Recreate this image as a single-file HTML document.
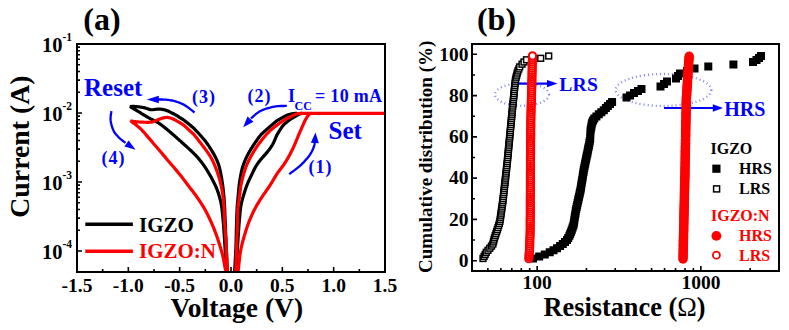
<!DOCTYPE html>
<html><head><meta charset="utf-8"><style>
html,body{margin:0;padding:0;background:#fff;}
body{width:789px;height:330px;overflow:hidden;}
svg{display:block;}
text{font-family:"Liberation Serif",serif;font-weight:bold;}
</style></head><body>
<svg width="789" height="330" viewBox="0 0 789 330">
<rect width="789" height="330" fill="#fff"/>
<path d="M78,251.00h4 M78,230.23h2 M78,218.08h2 M78,209.46h2 M78,202.77h2 M78,197.31h2 M78,192.69h2 M78,188.69h2 M78,185.16h2 M78,182.00h4 M78,161.23h2 M78,149.08h2 M78,140.46h2 M78,133.77h2 M78,128.31h2 M78,123.69h2 M78,119.69h2 M78,116.16h2 M78,113.00h4 M78,92.23h2 M78,80.08h2 M78,71.46h2 M78,64.77h2 M78,59.31h2 M78,54.69h2 M78,50.69h2 M78,47.16h2 M78,44.00h4 M77.00,271v-4 M102.66,271v-2 M128.33,271v-4 M154.00,271v-2 M179.66,271v-4 M205.33,271v-2 M231.00,271v-4 M256.67,271v-2 M282.33,271v-4 M308.00,271v-2 M333.67,271v-4 M359.34,271v-2 M385.00,271v-4" stroke="#000" stroke-width="1.6" fill="none"/>
<clipPath id="ca"><rect x="77" y="44" width="308" height="228"/></clipPath>
<g clip-path="url(#ca)">
<path d="M227.48,273.50 L227.43,272.50 L227.39,271.50 L227.34,270.50 L227.30,269.50 L227.26,268.50 L227.21,267.50 L227.17,266.50 L227.12,265.50 L227.08,264.50 L227.03,263.51 L226.99,262.51 L226.94,261.51 L226.90,260.51 L226.86,259.51 L226.81,258.51 L226.77,257.51 L226.72,256.51 L226.68,255.51 L226.63,254.51 L226.59,253.51 L226.55,252.51 L226.50,251.51 L226.46,250.51 L226.41,249.51 L226.37,248.51 L226.32,247.51 L226.28,246.51 L226.24,245.51 L226.19,244.51 L226.15,243.52 L226.11,242.52 L226.06,241.52 L226.02,240.52 L225.97,239.52 L225.93,238.52 L225.89,237.52 L225.84,236.52 L225.80,235.52 L225.76,234.52 L225.71,233.52 L225.67,232.52 L225.63,231.52 L225.58,230.52 L225.54,229.52 L225.50,228.52 L225.46,227.52 L225.41,226.52 L225.37,225.52 L225.33,224.52 L225.29,223.52 L225.25,222.52 L225.21,221.52 L225.16,220.52 L225.12,219.53 L225.08,218.53 L225.04,217.53 L225.00,216.53 L224.96,215.53 L224.92,214.53 L224.88,213.53 L224.84,212.53 L224.80,211.53 L224.76,210.53 L224.72,209.53 L224.67,208.53 L224.63,207.53 L224.58,206.53 L224.52,205.53 L224.47,204.53 L224.41,203.53 L224.34,202.54 L224.28,201.54 L224.21,200.54 L224.13,199.54 L224.06,198.55 L223.98,197.55 L223.89,196.55 L223.81,195.55 L223.72,194.56 L223.63,193.56 L223.54,192.57 L223.44,191.57 L223.34,190.58 L223.23,189.58 L223.11,188.59 L222.99,187.60 L222.86,186.61 L222.73,185.61 L222.59,184.62 L222.45,183.63 L222.31,182.64 L222.16,181.65 L222.00,180.67 L221.84,179.68 L221.68,178.69 L221.52,177.71 L221.35,176.72 L221.17,175.74 L220.99,174.75 L220.80,173.77 L220.61,172.79 L220.41,171.81 L220.21,170.83 L219.99,169.86 L219.77,168.89 L219.53,167.92 L219.27,166.96 L219.00,166.00 L218.71,165.05 L218.39,164.11 L218.06,163.17 L217.71,162.24 L217.34,161.32 L216.95,160.40 L216.55,159.49 L216.13,158.58 L215.70,157.68 L215.25,156.79 L214.79,155.91 L214.32,155.03 L213.83,154.15 L213.34,153.29 L212.84,152.42 L212.33,151.56 L211.81,150.71 L211.28,149.86 L210.75,149.02 L210.21,148.17 L209.66,147.33 L209.12,146.50 L208.56,145.66 L208.00,144.84 L207.44,144.01 L206.86,143.20 L206.28,142.39 L205.68,141.59 L205.06,140.80 L204.43,140.03 L203.79,139.26 L203.14,138.50 L202.49,137.74 L201.84,136.98 L201.19,136.22 L200.53,135.46 L199.88,134.71 L199.22,133.96 L198.54,133.22 L197.86,132.49 L197.17,131.76 L196.47,131.05 L195.77,130.33 L195.07,129.62 L194.37,128.91 L193.66,128.21 L192.94,127.51 L192.20,126.84 L191.45,126.18 L190.69,125.53 L189.92,124.90 L189.14,124.27 L188.36,123.64 L187.58,123.01 L186.80,122.39 L186.02,121.76 L185.23,121.15 L184.44,120.54 L183.64,119.94 L182.82,119.37 L181.98,118.82 L181.14,118.29 L180.28,117.77 L179.42,117.26 L178.56,116.75 L177.70,116.24 L176.84,115.73 L175.98,115.22 L175.11,114.72 L174.24,114.23 L173.37,113.74 L172.49,113.27 L171.61,112.80 L170.72,112.34 L169.83,111.89 L168.92,111.46 L168.01,111.07 L167.08,110.71 L166.14,110.38 L165.19,110.08 L164.23,109.81 L163.27,109.56 L162.29,109.37 L161.31,109.23 L160.33,109.13 L159.33,109.09 L158.34,109.09 L157.35,109.13 L156.36,109.22 L155.37,109.35 L154.40,109.51 L153.43,109.66 L152.46,109.75 L151.50,109.74 L150.55,109.63 L149.60,109.41 L148.66,109.13 L147.72,108.81 L146.77,108.49 L145.82,108.19 L144.87,107.92 L143.90,107.68 L142.92,107.49 L141.94,107.32 L140.95,107.17 L139.96,107.02 L138.97,106.89 L137.98,106.76 L136.99,106.64 L135.99,106.55 L135.00,106.50 L134.00,106.47 L133.00,106.46 L132.00,106.47 L131.00,106.48 L130.00,106.50 L130.86,107.02 L131.71,107.54 L132.57,108.06 L133.42,108.58 L134.28,109.10 L135.13,109.62 L135.99,110.14 L136.85,110.66 L137.70,111.18 L138.56,111.70 L139.41,112.22 L140.27,112.74 L141.13,113.26 L141.98,113.78 L142.84,114.29 L143.70,114.81 L144.55,115.33 L145.41,115.85 L146.27,116.36 L147.13,116.88 L147.99,117.38 L148.86,117.88 L149.74,118.36 L150.62,118.83 L151.51,119.28 L152.41,119.73 L153.30,120.18 L154.20,120.62 L155.10,121.07 L155.99,121.52 L156.87,121.99 L157.74,122.48 L158.59,123.00 L159.43,123.55 L160.24,124.12 L161.05,124.72 L161.85,125.32 L162.65,125.92 L163.44,126.53 L164.23,127.15 L165.01,127.77 L165.79,128.40 L166.56,129.04 L167.33,129.68 L168.09,130.33 L168.86,130.97 L169.62,131.62 L170.38,132.27 L171.15,132.92 L171.91,133.57 L172.67,134.22 L173.43,134.88 L174.18,135.53 L174.93,136.19 L175.68,136.86 L176.43,137.52 L177.18,138.19 L177.93,138.85 L178.68,139.52 L179.42,140.19 L180.17,140.85 L180.92,141.52 L181.66,142.19 L182.41,142.86 L183.15,143.53 L183.90,144.20 L184.64,144.87 L185.39,145.54 L186.13,146.21 L186.87,146.88 L187.61,147.56 L188.35,148.23 L189.08,148.91 L189.82,149.59 L190.55,150.28 L191.27,150.97 L192.00,151.66 L192.71,152.36 L193.43,153.06 L194.13,153.77 L194.83,154.48 L195.53,155.20 L196.21,155.93 L196.89,156.66 L197.56,157.40 L198.22,158.15 L198.87,158.91 L199.52,159.68 L200.15,160.45 L200.78,161.23 L201.39,162.01 L202.00,162.81 L202.60,163.61 L203.19,164.41 L203.77,165.23 L204.33,166.05 L204.89,166.88 L205.44,167.72 L205.98,168.56 L206.51,169.40 L207.04,170.26 L207.56,171.11 L208.08,171.97 L208.59,172.82 L209.10,173.69 L209.60,174.55 L210.10,175.42 L210.59,176.29 L211.08,177.16 L211.56,178.04 L212.04,178.92 L212.51,179.81 L212.97,180.69 L213.43,181.58 L213.88,182.48 L214.32,183.37 L214.76,184.27 L215.19,185.17 L215.61,186.08 L216.02,186.99 L216.41,187.90 L216.79,188.83 L217.16,189.75 L217.51,190.69 L217.84,191.63 L218.16,192.57 L218.47,193.52 L218.77,194.48 L219.06,195.43 L219.34,196.39 L219.61,197.35 L219.88,198.32 L220.14,199.28 L220.38,200.25 L220.62,201.22 L220.84,202.19 L221.05,203.17 L221.24,204.15 L221.41,205.13 L221.57,206.12 L221.72,207.10 L221.85,208.09 L221.98,209.08 L222.09,210.08 L222.20,211.07 L222.31,212.07 L222.41,213.06 L222.51,214.06 L222.61,215.05 L222.71,216.05 L222.81,217.05 L222.90,218.04 L223.00,219.04 L223.09,220.04 L223.18,221.04 L223.27,222.03 L223.36,223.03 L223.44,224.03 L223.52,225.03 L223.60,226.02 L223.67,227.02 L223.75,228.02 L223.82,229.02 L223.89,230.02 L223.95,231.02 L224.02,232.02 L224.09,233.02 L224.15,234.02 L224.22,235.01 L224.28,236.01 L224.35,237.01 L224.41,238.01 L224.48,239.01 L224.54,240.01 L224.61,241.01 L224.67,242.01 L224.74,243.01 L224.80,244.01 L224.86,245.01 L224.92,246.01 L224.98,247.01 L225.04,248.01 L225.10,249.01 L225.16,250.01 L225.22,251.00 L225.28,252.00 L225.33,253.00 L225.39,254.00 L225.44,255.00 L225.50,256.00 L225.56,257.00 L225.61,258.00 L225.67,259.00 L225.72,260.00 L225.78,261.00 L225.83,262.00 L225.89,263.00 L225.94,264.00 L226.00,265.00 L226.06,266.00 L226.11,267.00 L226.17,268.00 L226.22,269.00 L226.28,270.00 L226.33,271.00 L226.39,272.00 L226.44,273.00 L226.50,274.00" stroke="#000" stroke-width="3.2" fill="none" stroke-linejoin="miter" stroke-miterlimit="3"/>
<path d="M234.50,274.00 L234.56,273.00 L234.61,272.00 L234.67,271.00 L234.72,270.01 L234.78,269.01 L234.83,268.01 L234.89,267.01 L234.94,266.01 L235.00,265.01 L235.05,264.01 L235.11,263.02 L235.17,262.02 L235.22,261.02 L235.28,260.02 L235.33,259.02 L235.39,258.02 L235.44,257.03 L235.50,256.03 L235.55,255.03 L235.61,254.03 L235.66,253.03 L235.71,252.03 L235.76,251.03 L235.81,250.03 L235.86,249.04 L235.90,248.04 L235.94,247.04 L235.98,246.04 L236.01,245.04 L236.04,244.04 L236.07,243.04 L236.10,242.04 L236.12,241.04 L236.15,240.04 L236.17,239.04 L236.19,238.04 L236.22,237.04 L236.24,236.04 L236.26,235.04 L236.28,234.04 L236.30,233.04 L236.33,232.04 L236.35,231.04 L236.37,230.04 L236.39,229.04 L236.42,228.04 L236.44,227.04 L236.47,226.04 L236.49,225.04 L236.52,224.04 L236.55,223.05 L236.58,222.05 L236.61,221.05 L236.64,220.05 L236.68,219.05 L236.71,218.05 L236.74,217.05 L236.78,216.05 L236.81,215.05 L236.85,214.05 L236.88,213.05 L236.92,212.05 L236.96,211.05 L237.01,210.05 L237.05,209.06 L237.11,208.06 L237.17,207.06 L237.23,206.07 L237.31,205.07 L237.39,204.08 L237.48,203.08 L237.57,202.09 L237.67,201.09 L237.77,200.10 L237.87,199.11 L237.97,198.11 L238.06,197.12 L238.15,196.12 L238.24,195.13 L238.33,194.13 L238.41,193.14 L238.50,192.14 L238.58,191.14 L238.67,190.15 L238.75,189.15 L238.85,188.16 L238.94,187.16 L239.05,186.17 L239.16,185.18 L239.29,184.19 L239.42,183.20 L239.56,182.21 L239.71,181.22 L239.86,180.23 L240.03,179.25 L240.19,178.26 L240.37,177.28 L240.54,176.29 L240.73,175.31 L240.92,174.33 L241.11,173.35 L241.31,172.37 L241.53,171.40 L241.75,170.43 L241.99,169.46 L242.24,168.50 L242.51,167.54 L242.80,166.58 L243.10,165.63 L243.42,164.69 L243.76,163.75 L244.10,162.82 L244.47,161.89 L244.84,160.96 L245.23,160.05 L245.62,159.13 L246.03,158.22 L246.46,157.32 L246.89,156.42 L247.34,155.53 L247.80,154.65 L248.27,153.77 L248.75,152.89 L249.24,152.02 L249.74,151.16 L250.25,150.30 L250.76,149.44 L251.28,148.59 L251.81,147.74 L252.33,146.89 L252.86,146.04 L253.40,145.20 L253.95,144.36 L254.51,143.53 L255.07,142.71 L255.64,141.88 L256.21,141.06 L256.79,140.25 L257.37,139.43 L257.94,138.62 L258.53,137.80 L259.11,137.00 L259.72,136.21 L260.35,135.44 L261.01,134.69 L261.71,133.98 L262.42,133.29 L263.15,132.61 L263.89,131.93 L264.63,131.26 L265.38,130.59 L266.12,129.93 L266.87,129.27 L267.62,128.61 L268.38,127.95 L269.14,127.30 L269.90,126.65 L270.65,126.00 L271.41,125.35 L272.17,124.69 L272.93,124.04 L273.69,123.39 L274.45,122.75 L275.22,122.10 L276.00,121.48 L276.79,120.87 L277.60,120.30 L278.44,119.76 L279.29,119.26 L280.16,118.77 L281.04,118.29 L281.92,117.81 L282.80,117.33 L283.68,116.86 L284.56,116.39 L285.45,115.94 L286.35,115.51 L287.26,115.12 L288.19,114.78 L289.14,114.48 L290.10,114.22 L291.07,114.00 L292.05,113.80 L293.03,113.64 L294.01,113.53 L295.01,113.46 L296.00,113.42 L297.00,113.40" stroke="#000" stroke-width="3.2" fill="none" stroke-linejoin="round" stroke-linecap="butt"/>
<path d="M236.00,274.00 L236.06,273.00 L236.11,272.00 L236.17,271.00 L236.22,270.00 L236.28,269.00 L236.33,268.00 L236.39,267.00 L236.44,266.00 L236.50,265.00 L236.56,264.00 L236.61,263.00 L236.67,262.00 L236.72,261.00 L236.78,259.99 L236.83,258.99 L236.89,257.99 L236.94,256.99 L237.00,255.99 L237.06,254.99 L237.11,253.99 L237.17,252.99 L237.23,251.99 L237.28,250.99 L237.34,249.99 L237.40,248.99 L237.46,247.99 L237.52,246.99 L237.58,245.99 L237.64,244.99 L237.70,243.99 L237.77,242.99 L237.83,241.99 L237.89,240.99 L237.96,239.99 L238.02,238.99 L238.09,237.99 L238.15,236.99 L238.22,235.99 L238.28,234.99 L238.35,233.99 L238.41,232.99 L238.48,231.99 L238.55,230.99 L238.61,229.99 L238.68,228.99 L238.75,228.00 L238.82,227.00 L238.90,226.00 L238.97,225.00 L239.05,224.00 L239.13,223.00 L239.22,222.00 L239.30,221.00 L239.39,220.01 L239.48,219.01 L239.57,218.01 L239.66,217.01 L239.75,216.02 L239.85,215.02 L239.94,214.02 L240.04,213.02 L240.14,212.03 L240.24,211.03 L240.35,210.04 L240.46,209.04 L240.59,208.05 L240.72,207.06 L240.87,206.08 L241.04,205.09 L241.22,204.11 L241.42,203.14 L241.64,202.17 L241.88,201.20 L242.13,200.23 L242.39,199.27 L242.66,198.31 L242.95,197.35 L243.23,196.39 L243.52,195.43 L243.82,194.47 L244.11,193.52 L244.41,192.56 L244.72,191.61 L245.02,190.65 L245.33,189.70 L245.64,188.75 L245.97,187.80 L246.30,186.86 L246.64,185.92 L247.00,184.99 L247.36,184.06 L247.75,183.14 L248.14,182.22 L248.54,181.30 L248.96,180.40 L249.38,179.49 L249.81,178.58 L250.24,177.68 L250.68,176.78 L251.11,175.88 L251.55,174.98 L251.98,174.07 L252.41,173.17 L252.84,172.27 L253.27,171.37 L253.71,170.47 L254.15,169.58 L254.60,168.69 L255.07,167.81 L255.55,166.94 L256.04,166.08 L256.56,165.24 L257.09,164.40 L257.65,163.57 L258.22,162.76 L258.81,161.96 L259.42,161.16 L260.04,160.38 L260.67,159.61 L261.31,158.85 L261.97,158.10 L262.63,157.35 L263.30,156.60 L263.97,155.86 L264.63,155.12 L265.30,154.37 L265.96,153.62 L266.61,152.86 L267.25,152.10 L267.88,151.32 L268.50,150.54 L269.11,149.75 L269.70,148.94 L270.27,148.13 L270.83,147.31 L271.38,146.48 L271.91,145.64 L272.42,144.79 L272.91,143.92 L273.36,143.04 L273.79,142.14 L274.20,141.23 L274.60,140.31 L274.98,139.38 L275.37,138.46 L275.76,137.54 L276.17,136.62 L276.59,135.72 L277.04,134.83 L277.52,133.95 L278.03,133.09 L278.55,132.24 L279.08,131.39 L279.62,130.54 L280.15,129.69 L280.69,128.85 L281.23,128.01 L281.79,127.18 L282.38,126.38 L283.01,125.61 L283.68,124.88 L284.39,124.19 L285.12,123.51 L285.87,122.85 L286.63,122.19 L287.39,121.54 L288.16,120.91 L288.95,120.29 L289.75,119.70 L290.58,119.15 L291.43,118.61 L292.28,118.10 L293.15,117.59 L294.01,117.09 L294.88,116.58 L295.74,116.07 L296.60,115.56 L297.46,115.06 L298.33,114.58 L299.21,114.17 L300.12,113.84 L301.05,113.59 L302.00,113.40" stroke="#000" stroke-width="3.2" fill="none" stroke-linejoin="round" stroke-linecap="butt"/>
<path d="M227.48,273.50 L227.43,272.50 L227.38,271.50 L227.34,270.50 L227.29,269.50 L227.24,268.50 L227.19,267.50 L227.15,266.50 L227.10,265.51 L227.05,264.51 L227.01,263.51 L226.96,262.51 L226.91,261.51 L226.87,260.51 L226.82,259.51 L226.77,258.51 L226.72,257.51 L226.68,256.51 L226.63,255.51 L226.58,254.51 L226.54,253.51 L226.49,252.51 L226.44,251.51 L226.39,250.51 L226.35,249.52 L226.30,248.52 L226.25,247.52 L226.20,246.52 L226.15,245.52 L226.10,244.52 L226.05,243.52 L226.00,242.52 L225.94,241.52 L225.88,240.52 L225.82,239.52 L225.76,238.53 L225.69,237.53 L225.62,236.53 L225.55,235.53 L225.48,234.53 L225.41,233.54 L225.33,232.54 L225.26,231.54 L225.19,230.54 L225.11,229.55 L225.04,228.55 L224.98,227.55 L224.91,226.55 L224.85,225.55 L224.79,224.55 L224.73,223.56 L224.68,222.56 L224.62,221.56 L224.58,220.56 L224.53,219.56 L224.49,218.56 L224.44,217.56 L224.40,216.56 L224.36,215.56 L224.32,214.56 L224.28,213.56 L224.24,212.56 L224.20,211.56 L224.16,210.56 L224.11,209.56 L224.06,208.56 L224.01,207.57 L223.95,206.57 L223.88,205.57 L223.81,204.57 L223.73,203.58 L223.65,202.58 L223.55,201.59 L223.45,200.59 L223.35,199.60 L223.23,198.60 L223.12,197.61 L223.00,196.62 L222.87,195.63 L222.74,194.63 L222.60,193.64 L222.46,192.66 L222.31,191.67 L222.14,190.68 L221.97,189.70 L221.79,188.72 L221.60,187.74 L221.39,186.76 L221.18,185.78 L220.96,184.81 L220.73,183.84 L220.49,182.86 L220.25,181.90 L220.00,180.93 L219.74,179.96 L219.47,179.00 L219.20,178.04 L218.91,177.08 L218.62,176.13 L218.32,175.17 L218.01,174.22 L217.69,173.27 L217.37,172.33 L217.04,171.38 L216.70,170.44 L216.36,169.50 L216.01,168.57 L215.65,167.63 L215.29,166.70 L214.92,165.78 L214.53,164.85 L214.14,163.94 L213.74,163.02 L213.32,162.12 L212.89,161.22 L212.45,160.32 L212.00,159.43 L211.53,158.56 L211.04,157.69 L210.54,156.82 L210.03,155.97 L209.50,155.13 L208.95,154.29 L208.40,153.46 L207.83,152.64 L207.25,151.83 L206.67,151.02 L206.08,150.21 L205.48,149.41 L204.88,148.61 L204.27,147.81 L203.67,147.02 L203.06,146.22 L202.45,145.43 L201.84,144.64 L201.22,143.85 L200.61,143.06 L200.00,142.27 L199.39,141.47 L198.78,140.68 L198.18,139.88 L197.58,139.08 L196.97,138.29 L196.36,137.49 L195.75,136.70 L195.12,135.93 L194.46,135.18 L193.78,134.46 L193.07,133.76 L192.34,133.07 L191.61,132.39 L190.87,131.72 L190.14,131.04 L189.40,130.36 L188.67,129.67 L187.95,128.99 L187.22,128.30 L186.49,127.61 L185.76,126.93 L185.02,126.26 L184.27,125.60 L183.50,124.98 L182.70,124.39 L181.87,123.84 L181.02,123.33 L180.15,122.83 L179.28,122.35 L178.40,121.86 L177.52,121.38 L176.65,120.90 L175.77,120.43 L174.88,119.95 L174.00,119.49 L173.10,119.05 L172.20,118.63 L171.29,118.25 L170.36,117.94 L169.41,117.70 L168.44,117.55 L167.46,117.47 L166.47,117.45 L165.49,117.50 L164.52,117.63 L163.55,117.83 L162.60,118.09 L161.65,118.38 L160.70,118.71 L159.76,119.05 L158.83,119.40 L157.90,119.76 L156.97,120.14 L156.05,120.53 L155.13,120.92 L154.21,121.29 L153.28,121.62 L152.33,121.89 L151.37,122.09 L150.40,122.20 L149.41,122.26 L148.41,122.29 L147.42,122.29 L146.42,122.29 L145.42,122.27 L144.42,122.25 L143.42,122.21 L142.42,122.17 L141.42,122.12 L140.42,122.06 L139.42,122.01 L138.42,121.95 L137.42,121.88 L136.43,121.79 L135.44,121.68 L134.45,121.55 L133.46,121.41 L132.47,121.24 L131.49,121.07 L130.50,120.90 L131.32,121.48 L132.13,122.05 L132.95,122.63 L133.76,123.22 L134.57,123.80 L135.37,124.40 L136.16,125.02 L136.94,125.64 L137.72,126.27 L138.48,126.91 L139.24,127.56 L139.99,128.22 L140.72,128.90 L141.43,129.61 L142.12,130.33 L142.79,131.07 L143.46,131.81 L144.12,132.56 L144.78,133.32 L145.43,134.07 L146.09,134.82 L146.75,135.58 L147.41,136.33 L148.06,137.09 L148.71,137.85 L149.36,138.61 L150.01,139.37 L150.66,140.13 L151.31,140.89 L151.95,141.65 L152.60,142.42 L153.25,143.18 L153.90,143.94 L154.55,144.70 L155.19,145.46 L155.84,146.23 L156.49,146.99 L157.14,147.75 L157.79,148.51 L158.43,149.27 L159.08,150.04 L159.73,150.80 L160.38,151.56 L161.02,152.32 L161.67,153.09 L162.32,153.85 L162.97,154.61 L163.62,155.37 L164.26,156.13 L164.91,156.90 L165.56,157.66 L166.21,158.42 L166.86,159.18 L167.50,159.94 L168.15,160.71 L168.80,161.47 L169.45,162.23 L170.09,162.99 L170.74,163.76 L171.39,164.52 L172.04,165.28 L172.69,166.04 L173.34,166.80 L173.98,167.56 L174.63,168.33 L175.28,169.09 L175.93,169.85 L176.57,170.61 L177.22,171.38 L177.86,172.14 L178.51,172.91 L179.14,173.68 L179.78,174.45 L180.41,175.23 L181.03,176.01 L181.65,176.79 L182.27,177.58 L182.88,178.37 L183.48,179.17 L184.08,179.97 L184.67,180.77 L185.27,181.57 L185.86,182.38 L186.46,183.18 L187.06,183.98 L187.66,184.78 L188.27,185.58 L188.88,186.37 L189.49,187.16 L190.10,187.95 L190.71,188.74 L191.33,189.53 L191.94,190.32 L192.56,191.11 L193.17,191.90 L193.77,192.69 L194.38,193.49 L194.97,194.29 L195.56,195.10 L196.15,195.91 L196.73,196.72 L197.30,197.54 L197.87,198.36 L198.44,199.19 L199.00,200.01 L199.56,200.84 L200.11,201.67 L200.66,202.51 L201.21,203.35 L201.75,204.19 L202.29,205.03 L202.81,205.88 L203.33,206.73 L203.84,207.59 L204.34,208.46 L204.83,209.33 L205.31,210.20 L205.79,211.08 L206.25,211.96 L206.71,212.85 L207.17,213.74 L207.62,214.63 L208.07,215.53 L208.51,216.42 L208.95,217.32 L209.38,218.22 L209.81,219.13 L210.23,220.03 L210.65,220.94 L211.06,221.85 L211.46,222.77 L211.86,223.68 L212.25,224.60 L212.64,225.52 L213.03,226.45 L213.41,227.37 L213.79,228.30 L214.16,229.22 L214.53,230.15 L214.89,231.08 L215.25,232.02 L215.61,232.95 L215.95,233.89 L216.29,234.83 L216.63,235.77 L216.96,236.72 L217.28,237.66 L217.60,238.61 L217.92,239.56 L218.24,240.51 L218.55,241.46 L218.86,242.41 L219.17,243.36 L219.48,244.31 L219.78,245.26 L220.08,246.22 L220.38,247.17 L220.67,248.13 L220.96,249.09 L221.24,250.04 L221.51,251.01 L221.77,251.97 L222.03,252.93 L222.28,253.90 L222.51,254.87 L222.74,255.85 L222.96,256.82 L223.17,257.80 L223.37,258.78 L223.57,259.76 L223.77,260.74 L223.96,261.72 L224.15,262.70 L224.34,263.68 L224.53,264.66 L224.71,265.65 L224.90,266.63 L225.09,267.61 L225.27,268.60 L225.46,269.58 L225.65,270.56 L225.83,271.54 L226.02,272.53 L226.21,273.51" stroke="#ff0000" stroke-width="3.2" fill="none" stroke-linejoin="miter" stroke-miterlimit="3"/>
<path d="M235.60,274.00 L235.64,273.00 L235.68,272.00 L235.71,271.00 L235.75,270.00 L235.79,269.00 L235.83,268.00 L235.87,267.00 L235.91,266.00 L235.94,265.00 L235.98,264.00 L236.02,263.00 L236.06,262.00 L236.10,261.00 L236.14,260.00 L236.17,259.00 L236.21,258.00 L236.25,257.00 L236.29,256.00 L236.33,255.00 L236.36,254.00 L236.40,253.01 L236.44,252.01 L236.48,251.01 L236.52,250.01 L236.56,249.01 L236.59,248.01 L236.63,247.01 L236.67,246.01 L236.71,245.01 L236.74,244.01 L236.78,243.01 L236.82,242.01 L236.85,241.01 L236.89,240.01 L236.92,239.01 L236.96,238.01 L236.99,237.01 L237.02,236.01 L237.06,235.01 L237.09,234.01 L237.12,233.01 L237.15,232.01 L237.18,231.01 L237.21,230.01 L237.24,229.01 L237.27,228.01 L237.30,227.01 L237.33,226.01 L237.36,225.01 L237.39,224.01 L237.41,223.01 L237.44,222.01 L237.46,221.01 L237.48,220.01 L237.51,219.01 L237.53,218.01 L237.55,217.01 L237.57,216.01 L237.59,215.01 L237.62,214.01 L237.65,213.01 L237.68,212.01 L237.72,211.01 L237.76,210.01 L237.82,209.02 L237.88,208.02 L237.97,207.03 L238.06,206.04 L238.17,205.05 L238.30,204.07 L238.44,203.08 L238.58,202.10 L238.74,201.11 L238.89,200.13 L239.04,199.14 L239.19,198.15 L239.34,197.17 L239.47,196.18 L239.61,195.19 L239.74,194.20 L239.86,193.21 L239.99,192.21 L240.11,191.22 L240.24,190.23 L240.37,189.24 L240.50,188.25 L240.65,187.26 L240.81,186.28 L240.97,185.29 L241.15,184.31 L241.35,183.33 L241.55,182.36 L241.77,181.38 L242.00,180.41 L242.24,179.44 L242.48,178.47 L242.73,177.50 L242.99,176.54 L243.25,175.57 L243.51,174.61 L243.78,173.64 L244.05,172.68 L244.33,171.72 L244.62,170.77 L244.92,169.82 L245.24,168.87 L245.56,167.93 L245.91,167.00 L246.27,166.07 L246.65,165.15 L247.04,164.23 L247.45,163.32 L247.87,162.42 L248.30,161.52 L248.74,160.62 L249.19,159.73 L249.65,158.84 L250.11,157.96 L250.58,157.08 L251.06,156.20 L251.55,155.33 L252.04,154.46 L252.54,153.59 L253.05,152.73 L253.56,151.87 L254.07,151.01 L254.60,150.16 L255.12,149.31 L255.66,148.47 L256.20,147.63 L256.75,146.79 L257.30,145.96 L257.87,145.14 L258.44,144.33 L259.03,143.52 L259.64,142.72 L260.25,141.93 L260.87,141.15 L261.50,140.37 L262.12,139.59 L262.75,138.81 L263.37,138.03 L264.00,137.25 L264.64,136.48 L265.28,135.71 L265.94,134.96 L266.61,134.22 L267.30,133.50 L267.99,132.78 L268.69,132.06 L269.40,131.35 L270.11,130.65 L270.83,129.96 L271.58,129.30 L272.34,128.65 L273.12,128.03 L273.91,127.42 L274.71,126.81 L275.51,126.21 L276.31,125.62 L277.11,125.02 L277.91,124.42 L278.72,123.82 L279.52,123.23 L280.33,122.64 L281.15,122.07 L281.97,121.51 L282.82,120.97 L283.67,120.46 L284.54,119.96 L285.41,119.46 L286.28,118.97 L287.15,118.49 L288.03,118.00 L288.90,117.52 L289.78,117.03 L290.66,116.56 L291.54,116.09 L292.44,115.65 L293.34,115.24 L294.26,114.85 L295.19,114.49 L296.13,114.17 L297.08,113.89 L298.04,113.68 L299.02,113.54 L300.00,113.46 L301.00,113.42 L302.00,113.41 L303.00,113.40 L304.00,113.40 L305.00,113.40 L306.00,113.40 L307.00,113.40 L308.00,113.40 L309.00,113.40 L310.00,113.40 L311.00,113.40 L312.00,113.40" stroke="#ff0000" stroke-width="3.2" fill="none" stroke-linejoin="round" stroke-linecap="butt"/>
<path d="M237.80,274.00 L237.91,273.00 L238.02,272.01 L238.14,271.01 L238.25,270.02 L238.36,269.02 L238.47,268.03 L238.58,267.03 L238.70,266.04 L238.81,265.04 L238.92,264.05 L239.03,263.05 L239.14,262.06 L239.26,261.06 L239.37,260.07 L239.48,259.08 L239.60,258.08 L239.72,257.09 L239.84,256.09 L239.97,255.10 L240.10,254.11 L240.24,253.12 L240.39,252.13 L240.55,251.15 L240.73,250.16 L240.92,249.18 L241.12,248.20 L241.33,247.23 L241.55,246.25 L241.78,245.28 L242.02,244.31 L242.26,243.34 L242.51,242.37 L242.77,241.40 L243.03,240.44 L243.30,239.47 L243.56,238.51 L243.84,237.54 L244.11,236.58 L244.40,235.62 L244.68,234.66 L244.97,233.70 L245.26,232.74 L245.55,231.79 L245.85,230.83 L246.15,229.88 L246.45,228.92 L246.76,227.97 L247.08,227.02 L247.40,226.08 L247.74,225.13 L248.08,224.19 L248.43,223.26 L248.79,222.32 L249.15,221.39 L249.53,220.47 L249.91,219.54 L250.30,218.62 L250.69,217.70 L251.08,216.78 L251.48,215.86 L251.89,214.95 L252.30,214.04 L252.72,213.13 L253.15,212.22 L253.59,211.33 L254.03,210.43 L254.49,209.54 L254.96,208.66 L255.44,207.78 L255.92,206.91 L256.41,206.03 L256.91,205.17 L257.41,204.30 L257.92,203.44 L258.43,202.58 L258.95,201.73 L259.48,200.87 L260.01,200.02 L260.54,199.18 L261.09,198.34 L261.64,197.51 L262.19,196.67 L262.75,195.85 L263.32,195.02 L263.89,194.20 L264.46,193.38 L265.04,192.56 L265.61,191.74 L266.19,190.92 L266.76,190.10 L267.33,189.28 L267.90,188.45 L268.46,187.63 L269.02,186.79 L269.57,185.96 L270.12,185.12 L270.66,184.28 L271.19,183.43 L271.71,182.58 L272.23,181.72 L272.74,180.86 L273.25,180.00 L273.76,179.14 L274.27,178.28 L274.78,177.42 L275.29,176.56 L275.81,175.71 L276.34,174.86 L276.87,174.02 L277.42,173.19 L277.98,172.37 L278.56,171.57 L279.15,170.77 L279.75,169.98 L280.35,169.19 L280.96,168.41 L281.57,167.62 L282.17,166.83 L282.77,166.04 L283.35,165.23 L283.93,164.42 L284.48,163.60 L285.03,162.76 L285.57,161.92 L286.10,161.08 L286.62,160.22 L287.13,159.36 L287.64,158.50 L288.13,157.63 L288.63,156.76 L289.11,155.89 L289.59,155.01 L290.06,154.13 L290.52,153.24 L290.98,152.35 L291.44,151.46 L291.88,150.56 L292.32,149.67 L292.76,148.76 L293.19,147.86 L293.62,146.96 L294.05,146.05 L294.47,145.14 L294.87,144.23 L295.27,143.31 L295.66,142.39 L296.04,141.46 L296.41,140.53 L296.78,139.60 L297.15,138.67 L297.51,137.74 L297.89,136.81 L298.26,135.88 L298.65,134.96 L299.04,134.04 L299.44,133.12 L299.85,132.21 L300.26,131.29 L300.67,130.38 L301.08,129.46 L301.48,128.55 L301.88,127.63 L302.28,126.71 L302.68,125.80 L303.08,124.88 L303.48,123.96 L303.88,123.04 L304.29,122.13 L304.72,121.22 L305.16,120.33 L305.64,119.45 L306.13,118.57 L306.63,117.71 L307.15,116.86 L307.70,116.03 L308.29,115.24 L308.95,114.54 L309.68,113.99 L310.52,113.64 L311.44,113.47 L312.41,113.42 L313.41,113.40 L314.41,113.40 L315.41,113.40 L316.41,113.40 L317.41,113.40 L318.41,113.40 L319.41,113.40 L320.41,113.40 L321.41,113.40 L322.42,113.40 L323.42,113.40 L324.42,113.40 L325.42,113.40 L326.42,113.40 L327.42,113.40 L328.42,113.40 L329.43,113.40 L330.43,113.40 L331.43,113.40 L332.43,113.40 L333.43,113.40 L334.43,113.40 L335.43,113.40 L336.43,113.40 L337.44,113.40 L338.44,113.40 L339.44,113.40 L340.44,113.40 L341.44,113.40 L342.44,113.40 L343.44,113.40 L344.45,113.40 L345.45,113.40 L346.45,113.40 L347.45,113.40 L348.45,113.40 L349.45,113.40 L350.45,113.40 L351.45,113.40 L352.46,113.40 L353.46,113.40 L354.46,113.40 L355.46,113.40 L356.46,113.40 L357.46,113.40 L358.46,113.40 L359.47,113.40 L360.47,113.40 L361.47,113.40 L362.47,113.40 L363.47,113.40 L364.47,113.40 L365.47,113.40 L366.47,113.40 L367.48,113.40 L368.48,113.40 L369.48,113.40 L370.48,113.40 L371.48,113.40 L372.48,113.40 L373.48,113.40 L374.48,113.40 L375.49,113.40 L376.49,113.40 L377.49,113.40 L378.49,113.40 L379.49,113.40 L380.49,113.40 L381.49,113.40 L382.50,113.40 L383.50,113.40 L384.50,113.40 L385.50,113.40" stroke="#ff0000" stroke-width="3.2" fill="none" stroke-linejoin="round" stroke-linecap="butt"/>
</g>
<rect x="77" y="44" width="308" height="228" fill="none" stroke="#000" stroke-width="2"/>
<text x="62.6" y="52.0" font-family="Liberation Serif" font-weight="bold" font-size="20.5" text-anchor="end">10</text>
<text x="72" y="40.7" font-family="Liberation Serif" font-weight="bold" font-size="11.5" text-anchor="end">-1</text>
<text x="62.6" y="121.0" font-family="Liberation Serif" font-weight="bold" font-size="20.5" text-anchor="end">10</text>
<text x="72" y="109.7" font-family="Liberation Serif" font-weight="bold" font-size="11.5" text-anchor="end">-2</text>
<text x="62.6" y="190.0" font-family="Liberation Serif" font-weight="bold" font-size="20.5" text-anchor="end">10</text>
<text x="72" y="178.7" font-family="Liberation Serif" font-weight="bold" font-size="11.5" text-anchor="end">-3</text>
<text x="62.6" y="259.0" font-family="Liberation Serif" font-weight="bold" font-size="20.5" text-anchor="end">10</text>
<text x="72" y="247.7" font-family="Liberation Serif" font-weight="bold" font-size="11.5" text-anchor="end">-4</text>
<text x="77.0" y="292.3" font-family="Liberation Serif" font-weight="bold" font-size="19.5" text-anchor="middle">-1.5</text>
<text x="128.3" y="292.3" font-family="Liberation Serif" font-weight="bold" font-size="19.5" text-anchor="middle">-1.0</text>
<text x="179.7" y="292.3" font-family="Liberation Serif" font-weight="bold" font-size="19.5" text-anchor="middle">-0.5</text>
<text x="231.0" y="292.3" font-family="Liberation Serif" font-weight="bold" font-size="19.5" text-anchor="middle">0.0</text>
<text x="282.3" y="292.3" font-family="Liberation Serif" font-weight="bold" font-size="19.5" text-anchor="middle">0.5</text>
<text x="333.7" y="292.3" font-family="Liberation Serif" font-weight="bold" font-size="19.5" text-anchor="middle">1.0</text>
<text x="385.0" y="292.3" font-family="Liberation Serif" font-weight="bold" font-size="19.5" text-anchor="middle">1.5</text>
<text x="102" y="29.7" font-family="Liberation Serif" font-weight="bold" font-size="32" text-anchor="middle">(a)</text>
<text x="236.8" y="317" font-family="Liberation Serif" font-weight="bold" font-size="27.5" text-anchor="middle">Voltage (V)</text>
<text transform="translate(28.5,146.6) rotate(-90)" x="0" y="0" font-family="Liberation Serif" font-weight="bold" font-size="27.8" text-anchor="middle">Current (A)</text>
<path d="M85.3,224.3H132.9" stroke="#000" stroke-width="3.5"/>
<text x="139" y="232.2" font-family="Liberation Serif" font-weight="bold" font-size="21">IGZO</text>
<path d="M85.3,251.2H132.9" stroke="#ff0000" stroke-width="3.5"/>
<text x="139" y="258.3" font-family="Liberation Serif" font-weight="bold" font-size="21" fill="#ff0000">IGZO:N</text>
<text x="84" y="96" font-family="Liberation Serif" font-weight="bold" font-size="25" fill="#0000ff">Reset</text>
<text x="328.5" y="139.1" font-family="Liberation Serif" font-weight="bold" font-size="25" fill="#0000ff">Set</text>
<text x="320.6" y="172.6" font-family="Liberation Serif" font-weight="bold" font-size="18" letter-spacing="1" fill="#0000ff" text-anchor="middle">(1)</text>
<text x="259.6" y="102" font-family="Liberation Serif" font-weight="bold" font-size="18" letter-spacing="1" fill="#0000ff" text-anchor="middle">(2)</text>
<text x="204" y="102.6" font-family="Liberation Serif" font-weight="bold" font-size="18" letter-spacing="1" fill="#0000ff" text-anchor="middle">(3)</text>
<text x="113.4" y="164.3" font-family="Liberation Serif" font-weight="bold" font-size="18" letter-spacing="1" fill="#0000ff" text-anchor="middle">(4)</text>
<text x="288" y="102" font-family="Liberation Serif" font-weight="bold" font-size="18" fill="#0000ff">I</text>
<text x="294.5" y="109.8" font-family="Liberation Serif" font-weight="bold" font-size="12" fill="#0000ff">CC</text>
<text x="315" y="102" font-family="Liberation Serif" font-weight="bold" font-size="18" letter-spacing="0.3" fill="#0000ff">= 10 mA</text>
<path d="M194.5,112.5 L193.8,112.0 L192.9,111.2 L191.8,110.3 L190.6,109.4 L189.3,108.4 L188.0,107.4 L186.7,106.5 L185.5,105.7 L184.4,105.0 L183.2,104.4 L182.1,103.9 L181.0,103.3 L179.8,102.9 L178.7,102.4 L177.5,102.0 L176.4,101.6 L175.3,101.3 L174.1,101.0 L173.0,100.7 L171.9,100.5 L170.7,100.3 L169.6,100.1 L168.4,99.9 L167.3,99.8 L166.1,99.7 L164.8,99.6 L163.4,99.6 L162.1,99.5 L160.8,99.5 L159.7,99.5 L158.7,99.5 L158.0,99.5" stroke="#0000ff" stroke-width="2.3" fill="none" stroke-linecap="butt"/><path d="M146.8,99.5 L158.8,95.8 L158.8,103.2 Z" fill="#0000ff"/>
<path d="M286.8,105.9 L286.0,105.9 L284.8,105.9 L283.5,106.0 L282.0,106.0 L280.5,106.0 L278.9,106.1 L277.3,106.2 L275.9,106.4 L274.5,106.6 L273.1,106.9 L271.7,107.2 L270.2,107.6 L268.8,107.9 L267.5,108.3 L266.2,108.7 L265.0,109.1 L263.9,109.5 L262.9,109.9 L262.0,110.3 L261.1,110.7 L260.2,111.1 L259.4,111.6 L258.6,112.1 L257.7,112.7 L256.8,113.4 L255.8,114.1 L254.8,115.0 L253.9,115.8 L253.0,116.7 L252.2,117.4 L251.5,118.0 L251.0,118.5" stroke="#0000ff" stroke-width="2.3" fill="none" stroke-linecap="butt"/><path d="M243.2,127.3 L247.5,116.4 L253.5,121.7 Z" fill="#0000ff"/>
<path d="M289.2,174.2 L290.0,173.6 L291.2,172.7 L292.5,171.7 L294.0,170.6 L295.6,169.4 L297.2,168.2 L298.7,167.0 L300.0,165.8 L301.3,164.6 L302.5,163.4 L303.8,162.1 L305.0,160.7 L306.2,159.4 L307.3,158.2 L308.3,156.9 L309.2,155.8 L310.0,154.7 L310.6,153.7 L311.2,152.7 L311.7,151.8 L312.2,150.8 L312.6,150.0 L312.9,149.1 L313.3,148.3 L313.6,147.5 L313.9,146.7 L314.1,145.9 L314.3,145.2 L314.5,144.5 L314.6,143.9 L314.7,143.4 L314.8,143.0" stroke="#0000ff" stroke-width="2.3" fill="none" stroke-linecap="butt"/><path d="M315.5,132.5 L318.8,143.2 L310.8,142.7 Z" fill="#0000ff"/>
<path d="M111.4,111.1 L111.3,111.8 L111.2,112.7 L111.0,113.8 L110.8,115.0 L110.7,116.3 L110.6,117.6 L110.5,118.9 L110.6,120.2 L110.8,121.5 L111.0,122.8 L111.3,124.2 L111.7,125.6 L112.1,127.0 L112.5,128.3 L113.1,129.6 L113.6,130.8 L114.2,131.9 L114.9,133.0 L115.7,134.0 L116.5,134.9 L117.3,135.8 L118.1,136.7 L118.9,137.5 L119.7,138.3 L120.5,139.0 L121.3,139.7 L122.2,140.4 L123.0,141.0 L123.8,141.6 L124.5,142.1 L125.1,142.5 L125.5,142.8" stroke="#0000ff" stroke-width="2.3" fill="none" stroke-linecap="butt"/><path d="M135.6,149.7 L124.4,146.6 L128.6,140.4 Z" fill="#0000ff"/>
<path d="M473,260.68h4 M473,240.05h2 M473,219.41h4 M473,198.77h2 M473,178.14h4 M473,157.50h2 M473,136.86h4 M473,116.23h2 M473,95.59h4 M473,74.95h2 M473,54.32h4 M487.87,270v-2 M500.83,270v-2 M511.79,270v-2 M521.29,270v-2 M529.66,270v-2 M537.15,270v-4 M586.44,270v-2 M615.27,270v-2 M635.73,270v-2 M651.59,270v-2 M664.56,270v-2 M675.52,270v-2 M685.02,270v-2 M693.39,270v-2 M700.88,270v-4 M750.17,270v-2" stroke="#000" stroke-width="1.6" fill="none"/>
<text x="468.6" y="266.9" font-family="Liberation Serif" font-weight="bold" font-size="19.5" text-anchor="end">0</text>
<text x="468.6" y="225.6" font-family="Liberation Serif" font-weight="bold" font-size="19.5" text-anchor="end">20</text>
<text x="468.6" y="184.3" font-family="Liberation Serif" font-weight="bold" font-size="19.5" text-anchor="end">40</text>
<text x="468.6" y="143.1" font-family="Liberation Serif" font-weight="bold" font-size="19.5" text-anchor="end">60</text>
<text x="468.6" y="101.8" font-family="Liberation Serif" font-weight="bold" font-size="19.5" text-anchor="end">80</text>
<text x="468.6" y="60.5" font-family="Liberation Serif" font-weight="bold" font-size="19.5" text-anchor="end">100</text>
<text x="537.2" y="289.2" font-family="Liberation Serif" font-weight="bold" font-size="19.5" text-anchor="middle">100</text>
<text x="700.9" y="289.2" font-family="Liberation Serif" font-weight="bold" font-size="19.5" text-anchor="middle">1000</text>
<text x="496.5" y="29.7" font-family="Liberation Serif" font-weight="bold" font-size="32" text-anchor="middle">(b)</text>
<text x="624.5" y="315.7" font-family="Liberation Serif" font-weight="bold" font-size="26.3" text-anchor="middle">Resistance (<tspan font-weight="normal">Ω</tspan>)</text>
<text transform="translate(432.3,156.8) rotate(-90)" x="0" y="0" font-family="Liberation Serif" font-weight="bold" font-size="19" text-anchor="middle">Cumulative distribution (%)</text>
<ellipse cx="522" cy="94.5" rx="27" ry="11.3" fill="none" stroke="#0000ff" stroke-opacity="0.5" stroke-width="2.3" stroke-dasharray="1 3"/>
<ellipse cx="663.5" cy="90" rx="47.8" ry="16" fill="none" stroke="#0000ff" stroke-opacity="0.5" stroke-width="2.3" stroke-dasharray="1 3"/>
<path d="M512,83.6H548" stroke="#0000ff" stroke-width="2.2"/><path d="M557.5,83.6L547,80L547,87.2Z" fill="#0000ff"/>
<path d="M664,108H714" stroke="#0000ff" stroke-width="2.2"/><path d="M723,108L712.8,104.2L712.8,111.8Z" fill="#0000ff"/>
<path d="M529.0,254.5h8.0v8.0h-8.0ZM535.2,252.4h8.0v8.0h-8.0ZM540.8,250.4h8.0v8.0h-8.0ZM545.7,248.3h8.0v8.0h-8.0ZM549.5,246.3h8.0v8.0h-8.0ZM553.0,244.2h8.0v8.0h-8.0ZM556.1,242.1h8.0v8.0h-8.0ZM558.8,240.1h8.0v8.0h-8.0ZM561.0,238.0h8.0v8.0h-8.0ZM563.0,236.0h8.0v8.0h-8.0ZM564.2,233.9h8.0v8.0h-8.0ZM565.4,231.8h8.0v8.0h-8.0ZM566.2,229.8h8.0v8.0h-8.0ZM567.1,227.7h8.0v8.0h-8.0ZM567.8,225.7h8.0v8.0h-8.0ZM568.6,223.6h8.0v8.0h-8.0ZM569.3,221.5h8.0v8.0h-8.0ZM569.8,219.5h8.0v8.0h-8.0ZM570.1,217.4h8.0v8.0h-8.0ZM570.4,215.4h8.0v8.0h-8.0ZM570.8,213.3h8.0v8.0h-8.0ZM571.1,211.2h8.0v8.0h-8.0ZM571.5,209.2h8.0v8.0h-8.0ZM571.8,207.1h8.0v8.0h-8.0ZM572.2,205.1h8.0v8.0h-8.0ZM572.7,203.0h8.0v8.0h-8.0ZM573.1,200.9h8.0v8.0h-8.0ZM573.6,198.9h8.0v8.0h-8.0ZM574.1,196.8h8.0v8.0h-8.0ZM574.5,194.8h8.0v8.0h-8.0ZM575.0,192.7h8.0v8.0h-8.0ZM575.5,190.6h8.0v8.0h-8.0ZM575.9,188.6h8.0v8.0h-8.0ZM576.4,186.5h8.0v8.0h-8.0ZM576.8,184.5h8.0v8.0h-8.0ZM577.1,182.4h8.0v8.0h-8.0ZM577.4,180.3h8.0v8.0h-8.0ZM577.8,178.3h8.0v8.0h-8.0ZM578.1,176.2h8.0v8.0h-8.0ZM578.5,174.2h8.0v8.0h-8.0ZM578.8,172.1h8.0v8.0h-8.0ZM579.1,170.0h8.0v8.0h-8.0ZM579.5,168.0h8.0v8.0h-8.0ZM579.8,165.9h8.0v8.0h-8.0ZM580.2,163.9h8.0v8.0h-8.0ZM580.7,161.8h8.0v8.0h-8.0ZM581.1,159.7h8.0v8.0h-8.0ZM581.5,157.7h8.0v8.0h-8.0ZM582.0,155.6h8.0v8.0h-8.0ZM582.4,153.6h8.0v8.0h-8.0ZM582.8,151.5h8.0v8.0h-8.0ZM583.3,149.4h8.0v8.0h-8.0ZM583.7,147.4h8.0v8.0h-8.0ZM584.1,145.3h8.0v8.0h-8.0ZM584.5,143.3h8.0v8.0h-8.0ZM585.0,141.2h8.0v8.0h-8.0ZM585.4,139.1h8.0v8.0h-8.0ZM585.8,137.1h8.0v8.0h-8.0ZM586.1,135.0h8.0v8.0h-8.0ZM586.2,133.0h8.0v8.0h-8.0ZM586.3,130.9h8.0v8.0h-8.0ZM586.4,128.8h8.0v8.0h-8.0ZM586.6,126.8h8.0v8.0h-8.0ZM586.9,124.7h8.0v8.0h-8.0ZM587.3,122.7h8.0v8.0h-8.0ZM587.7,120.6h8.0v8.0h-8.0ZM588.2,118.5h8.0v8.0h-8.0ZM589.1,116.5h8.0v8.0h-8.0ZM590.3,114.4h8.0v8.0h-8.0ZM592.4,112.4h8.0v8.0h-8.0ZM594.8,110.3h8.0v8.0h-8.0ZM597.3,108.2h8.0v8.0h-8.0ZM599.8,106.2h8.0v8.0h-8.0ZM601.9,104.1h8.0v8.0h-8.0ZM603.9,102.1h8.0v8.0h-8.0ZM606.0,100.0h8.0v8.0h-8.0ZM608.1,97.9h8.0v8.0h-8.0ZM622.5,93.5h8.0v8.0h-8.0ZM626.0,91.5h8.0v8.0h-8.0ZM630.0,89.0h8.0v8.0h-8.0ZM634.0,87.0h8.0v8.0h-8.0ZM637.5,85.0h8.0v8.0h-8.0ZM656.5,82.5h8.0v8.0h-8.0ZM660.0,80.0h8.0v8.0h-8.0ZM663.0,77.5h8.0v8.0h-8.0ZM672.0,74.5h8.0v8.0h-8.0ZM674.0,72.0h8.0v8.0h-8.0ZM676.0,69.5h8.0v8.0h-8.0ZM683.0,67.0h8.0v8.0h-8.0ZM690.5,64.5h8.0v8.0h-8.0ZM704.3,62.5h8.0v8.0h-8.0ZM729.4,60.5h8.0v8.0h-8.0ZM749.0,58.0h8.0v8.0h-8.0ZM752.5,56.0h8.0v8.0h-8.0ZM755.0,54.0h8.0v8.0h-8.0ZM757.0,52.0h8.0v8.0h-8.0Z" fill="#000"/>
<rect x="480.1" y="255.6" width="5.8" height="5.8" fill="#fff" stroke="#000" stroke-width="1.5"/>
<rect x="481.2" y="253.5" width="5.8" height="5.8" fill="#fff" stroke="#000" stroke-width="1.5"/>
<rect x="482.3" y="251.5" width="5.8" height="5.8" fill="#fff" stroke="#000" stroke-width="1.5"/>
<rect x="483.4" y="249.4" width="5.8" height="5.8" fill="#fff" stroke="#000" stroke-width="1.5"/>
<rect x="485.1" y="247.4" width="5.8" height="5.8" fill="#fff" stroke="#000" stroke-width="1.5"/>
<rect x="486.9" y="245.3" width="5.8" height="5.8" fill="#fff" stroke="#000" stroke-width="1.5"/>
<rect x="488.6" y="243.2" width="5.8" height="5.8" fill="#fff" stroke="#000" stroke-width="1.5"/>
<rect x="489.9" y="241.2" width="5.8" height="5.8" fill="#fff" stroke="#000" stroke-width="1.5"/>
<rect x="490.5" y="239.1" width="5.8" height="5.8" fill="#fff" stroke="#000" stroke-width="1.5"/>
<rect x="491.0" y="237.1" width="5.8" height="5.8" fill="#fff" stroke="#000" stroke-width="1.5"/>
<rect x="491.6" y="235.0" width="5.8" height="5.8" fill="#fff" stroke="#000" stroke-width="1.5"/>
<rect x="492.3" y="232.9" width="5.8" height="5.8" fill="#fff" stroke="#000" stroke-width="1.5"/>
<rect x="493.0" y="230.9" width="5.8" height="5.8" fill="#fff" stroke="#000" stroke-width="1.5"/>
<rect x="493.7" y="228.8" width="5.8" height="5.8" fill="#fff" stroke="#000" stroke-width="1.5"/>
<rect x="494.4" y="226.8" width="5.8" height="5.8" fill="#fff" stroke="#000" stroke-width="1.5"/>
<rect x="495.1" y="224.7" width="5.8" height="5.8" fill="#fff" stroke="#000" stroke-width="1.5"/>
<rect x="495.7" y="222.6" width="5.8" height="5.8" fill="#fff" stroke="#000" stroke-width="1.5"/>
<rect x="496.4" y="220.6" width="5.8" height="5.8" fill="#fff" stroke="#000" stroke-width="1.5"/>
<rect x="497.0" y="218.5" width="5.8" height="5.8" fill="#fff" stroke="#000" stroke-width="1.5"/>
<rect x="497.3" y="216.5" width="5.8" height="5.8" fill="#fff" stroke="#000" stroke-width="1.5"/>
<rect x="497.6" y="214.4" width="5.8" height="5.8" fill="#fff" stroke="#000" stroke-width="1.5"/>
<rect x="497.9" y="212.3" width="5.8" height="5.8" fill="#fff" stroke="#000" stroke-width="1.5"/>
<rect x="498.2" y="210.3" width="5.8" height="5.8" fill="#fff" stroke="#000" stroke-width="1.5"/>
<rect x="498.5" y="208.2" width="5.8" height="5.8" fill="#fff" stroke="#000" stroke-width="1.5"/>
<rect x="498.8" y="206.2" width="5.8" height="5.8" fill="#fff" stroke="#000" stroke-width="1.5"/>
<rect x="499.1" y="204.1" width="5.8" height="5.8" fill="#fff" stroke="#000" stroke-width="1.5"/>
<rect x="499.4" y="202.0" width="5.8" height="5.8" fill="#fff" stroke="#000" stroke-width="1.5"/>
<rect x="499.7" y="200.0" width="5.8" height="5.8" fill="#fff" stroke="#000" stroke-width="1.5"/>
<rect x="500.0" y="197.9" width="5.8" height="5.8" fill="#fff" stroke="#000" stroke-width="1.5"/>
<rect x="500.2" y="195.9" width="5.8" height="5.8" fill="#fff" stroke="#000" stroke-width="1.5"/>
<rect x="500.5" y="193.8" width="5.8" height="5.8" fill="#fff" stroke="#000" stroke-width="1.5"/>
<rect x="500.7" y="191.7" width="5.8" height="5.8" fill="#fff" stroke="#000" stroke-width="1.5"/>
<rect x="500.9" y="189.7" width="5.8" height="5.8" fill="#fff" stroke="#000" stroke-width="1.5"/>
<rect x="501.2" y="187.6" width="5.8" height="5.8" fill="#fff" stroke="#000" stroke-width="1.5"/>
<rect x="501.4" y="185.6" width="5.8" height="5.8" fill="#fff" stroke="#000" stroke-width="1.5"/>
<rect x="501.6" y="183.5" width="5.8" height="5.8" fill="#fff" stroke="#000" stroke-width="1.5"/>
<rect x="501.9" y="181.4" width="5.8" height="5.8" fill="#fff" stroke="#000" stroke-width="1.5"/>
<rect x="502.1" y="179.4" width="5.8" height="5.8" fill="#fff" stroke="#000" stroke-width="1.5"/>
<rect x="502.3" y="177.3" width="5.8" height="5.8" fill="#fff" stroke="#000" stroke-width="1.5"/>
<rect x="502.6" y="175.3" width="5.8" height="5.8" fill="#fff" stroke="#000" stroke-width="1.5"/>
<rect x="502.8" y="173.2" width="5.8" height="5.8" fill="#fff" stroke="#000" stroke-width="1.5"/>
<rect x="503.0" y="171.1" width="5.8" height="5.8" fill="#fff" stroke="#000" stroke-width="1.5"/>
<rect x="503.3" y="169.1" width="5.8" height="5.8" fill="#fff" stroke="#000" stroke-width="1.5"/>
<rect x="503.5" y="167.0" width="5.8" height="5.8" fill="#fff" stroke="#000" stroke-width="1.5"/>
<rect x="503.7" y="165.0" width="5.8" height="5.8" fill="#fff" stroke="#000" stroke-width="1.5"/>
<rect x="503.9" y="162.9" width="5.8" height="5.8" fill="#fff" stroke="#000" stroke-width="1.5"/>
<rect x="504.2" y="160.8" width="5.8" height="5.8" fill="#fff" stroke="#000" stroke-width="1.5"/>
<rect x="504.4" y="158.8" width="5.8" height="5.8" fill="#fff" stroke="#000" stroke-width="1.5"/>
<rect x="504.6" y="156.7" width="5.8" height="5.8" fill="#fff" stroke="#000" stroke-width="1.5"/>
<rect x="504.8" y="154.7" width="5.8" height="5.8" fill="#fff" stroke="#000" stroke-width="1.5"/>
<rect x="505.0" y="152.6" width="5.8" height="5.8" fill="#fff" stroke="#000" stroke-width="1.5"/>
<rect x="505.2" y="150.5" width="5.8" height="5.8" fill="#fff" stroke="#000" stroke-width="1.5"/>
<rect x="505.4" y="148.5" width="5.8" height="5.8" fill="#fff" stroke="#000" stroke-width="1.5"/>
<rect x="505.6" y="146.4" width="5.8" height="5.8" fill="#fff" stroke="#000" stroke-width="1.5"/>
<rect x="505.8" y="144.4" width="5.8" height="5.8" fill="#fff" stroke="#000" stroke-width="1.5"/>
<rect x="506.0" y="142.3" width="5.8" height="5.8" fill="#fff" stroke="#000" stroke-width="1.5"/>
<rect x="506.2" y="140.2" width="5.8" height="5.8" fill="#fff" stroke="#000" stroke-width="1.5"/>
<rect x="506.4" y="138.2" width="5.8" height="5.8" fill="#fff" stroke="#000" stroke-width="1.5"/>
<rect x="506.6" y="136.1" width="5.8" height="5.8" fill="#fff" stroke="#000" stroke-width="1.5"/>
<rect x="506.8" y="134.1" width="5.8" height="5.8" fill="#fff" stroke="#000" stroke-width="1.5"/>
<rect x="507.0" y="132.0" width="5.8" height="5.8" fill="#fff" stroke="#000" stroke-width="1.5"/>
<rect x="507.2" y="129.9" width="5.8" height="5.8" fill="#fff" stroke="#000" stroke-width="1.5"/>
<rect x="507.4" y="127.9" width="5.8" height="5.8" fill="#fff" stroke="#000" stroke-width="1.5"/>
<rect x="507.6" y="125.8" width="5.8" height="5.8" fill="#fff" stroke="#000" stroke-width="1.5"/>
<rect x="507.8" y="123.8" width="5.8" height="5.8" fill="#fff" stroke="#000" stroke-width="1.5"/>
<rect x="508.0" y="121.7" width="5.8" height="5.8" fill="#fff" stroke="#000" stroke-width="1.5"/>
<rect x="508.2" y="119.6" width="5.8" height="5.8" fill="#fff" stroke="#000" stroke-width="1.5"/>
<rect x="508.4" y="117.6" width="5.8" height="5.8" fill="#fff" stroke="#000" stroke-width="1.5"/>
<rect x="508.6" y="115.5" width="5.8" height="5.8" fill="#fff" stroke="#000" stroke-width="1.5"/>
<rect x="508.8" y="113.5" width="5.8" height="5.8" fill="#fff" stroke="#000" stroke-width="1.5"/>
<rect x="509.0" y="111.4" width="5.8" height="5.8" fill="#fff" stroke="#000" stroke-width="1.5"/>
<rect x="509.2" y="109.3" width="5.8" height="5.8" fill="#fff" stroke="#000" stroke-width="1.5"/>
<rect x="509.4" y="107.3" width="5.8" height="5.8" fill="#fff" stroke="#000" stroke-width="1.5"/>
<rect x="509.6" y="105.2" width="5.8" height="5.8" fill="#fff" stroke="#000" stroke-width="1.5"/>
<rect x="509.8" y="103.2" width="5.8" height="5.8" fill="#fff" stroke="#000" stroke-width="1.5"/>
<rect x="510.0" y="101.1" width="5.8" height="5.8" fill="#fff" stroke="#000" stroke-width="1.5"/>
<rect x="510.3" y="99.0" width="5.8" height="5.8" fill="#fff" stroke="#000" stroke-width="1.5"/>
<rect x="510.5" y="97.0" width="5.8" height="5.8" fill="#fff" stroke="#000" stroke-width="1.5"/>
<rect x="510.7" y="94.9" width="5.8" height="5.8" fill="#fff" stroke="#000" stroke-width="1.5"/>
<rect x="510.9" y="92.9" width="5.8" height="5.8" fill="#fff" stroke="#000" stroke-width="1.5"/>
<rect x="511.1" y="90.8" width="5.8" height="5.8" fill="#fff" stroke="#000" stroke-width="1.5"/>
<rect x="511.3" y="88.7" width="5.8" height="5.8" fill="#fff" stroke="#000" stroke-width="1.5"/>
<rect x="511.5" y="86.7" width="5.8" height="5.8" fill="#fff" stroke="#000" stroke-width="1.5"/>
<rect x="511.7" y="84.6" width="5.8" height="5.8" fill="#fff" stroke="#000" stroke-width="1.5"/>
<rect x="511.9" y="82.6" width="5.8" height="5.8" fill="#fff" stroke="#000" stroke-width="1.5"/>
<rect x="512.2" y="80.5" width="5.8" height="5.8" fill="#fff" stroke="#000" stroke-width="1.5"/>
<rect x="512.4" y="78.4" width="5.8" height="5.8" fill="#fff" stroke="#000" stroke-width="1.5"/>
<rect x="512.7" y="76.4" width="5.8" height="5.8" fill="#fff" stroke="#000" stroke-width="1.5"/>
<rect x="513.2" y="74.3" width="5.8" height="5.8" fill="#fff" stroke="#000" stroke-width="1.5"/>
<rect x="513.8" y="72.3" width="5.8" height="5.8" fill="#fff" stroke="#000" stroke-width="1.5"/>
<rect x="514.3" y="70.2" width="5.8" height="5.8" fill="#fff" stroke="#000" stroke-width="1.5"/>
<rect x="515.0" y="68.1" width="5.8" height="5.8" fill="#fff" stroke="#000" stroke-width="1.5"/>
<rect x="515.9" y="66.1" width="5.8" height="5.8" fill="#fff" stroke="#000" stroke-width="1.5"/>
<rect x="516.8" y="64.0" width="5.8" height="5.8" fill="#fff" stroke="#000" stroke-width="1.5"/>
<rect x="519.1" y="61.3" width="5.8" height="5.8" fill="#fff" stroke="#000" stroke-width="1.5"/>
<rect x="521.1" y="59.1" width="5.8" height="5.8" fill="#fff" stroke="#000" stroke-width="1.5"/>
<rect x="523.6" y="56.9" width="5.8" height="5.8" fill="#fff" stroke="#000" stroke-width="1.5"/>
<rect x="530.6" y="56.1" width="5.8" height="5.8" fill="#fff" stroke="#000" stroke-width="1.5"/>
<rect x="537.8" y="55.4" width="5.8" height="5.8" fill="#fff" stroke="#000" stroke-width="1.5"/>
<rect x="545.8" y="53.1" width="5.8" height="5.8" fill="#fff" stroke="#000" stroke-width="1.5"/>
<g fill="#ff0000"><circle cx="683.0" cy="258.9" r="4.8"/><circle cx="683.1" cy="256.8" r="4.8"/><circle cx="683.1" cy="254.8" r="4.8"/><circle cx="683.2" cy="252.7" r="4.8"/><circle cx="683.2" cy="250.6" r="4.8"/><circle cx="683.3" cy="248.6" r="4.8"/><circle cx="683.3" cy="246.5" r="4.8"/><circle cx="683.3" cy="244.4" r="4.8"/><circle cx="683.4" cy="242.4" r="4.8"/><circle cx="683.4" cy="240.3" r="4.8"/><circle cx="683.5" cy="238.2" r="4.8"/><circle cx="683.5" cy="236.2" r="4.8"/><circle cx="683.6" cy="234.1" r="4.8"/><circle cx="683.6" cy="232.0" r="4.8"/><circle cx="683.7" cy="230.0" r="4.8"/><circle cx="683.7" cy="227.9" r="4.8"/><circle cx="683.8" cy="225.8" r="4.8"/><circle cx="683.8" cy="223.8" r="4.8"/><circle cx="683.9" cy="221.7" r="4.8"/><circle cx="683.9" cy="219.6" r="4.8"/><circle cx="683.9" cy="217.6" r="4.8"/><circle cx="684.0" cy="215.5" r="4.8"/><circle cx="684.0" cy="213.4" r="4.8"/><circle cx="684.1" cy="211.4" r="4.8"/><circle cx="684.1" cy="209.3" r="4.8"/><circle cx="684.2" cy="207.2" r="4.8"/><circle cx="684.2" cy="205.2" r="4.8"/><circle cx="684.3" cy="203.1" r="4.8"/><circle cx="684.3" cy="201.0" r="4.8"/><circle cx="684.4" cy="199.0" r="4.8"/><circle cx="684.4" cy="196.9" r="4.8"/><circle cx="684.4" cy="194.8" r="4.8"/><circle cx="684.5" cy="192.8" r="4.8"/><circle cx="684.5" cy="190.7" r="4.8"/><circle cx="684.6" cy="188.6" r="4.8"/><circle cx="684.6" cy="186.6" r="4.8"/><circle cx="684.7" cy="184.5" r="4.8"/><circle cx="684.7" cy="182.4" r="4.8"/><circle cx="684.8" cy="180.4" r="4.8"/><circle cx="684.8" cy="178.3" r="4.8"/><circle cx="684.9" cy="176.2" r="4.8"/><circle cx="684.9" cy="174.2" r="4.8"/><circle cx="685.0" cy="172.1" r="4.8"/><circle cx="685.0" cy="170.0" r="4.8"/><circle cx="685.0" cy="168.0" r="4.8"/><circle cx="685.1" cy="165.9" r="4.8"/><circle cx="685.1" cy="163.8" r="4.8"/><circle cx="685.2" cy="161.8" r="4.8"/><circle cx="685.2" cy="159.7" r="4.8"/><circle cx="685.2" cy="157.6" r="4.8"/><circle cx="685.3" cy="155.6" r="4.8"/><circle cx="685.3" cy="153.5" r="4.8"/><circle cx="685.3" cy="151.5" r="4.8"/><circle cx="685.4" cy="149.4" r="4.8"/><circle cx="685.4" cy="147.3" r="4.8"/><circle cx="685.5" cy="145.3" r="4.8"/><circle cx="685.5" cy="143.2" r="4.8"/><circle cx="685.5" cy="141.1" r="4.8"/><circle cx="685.6" cy="139.1" r="4.8"/><circle cx="685.6" cy="137.0" r="4.8"/><circle cx="685.7" cy="134.9" r="4.8"/><circle cx="685.7" cy="132.9" r="4.8"/><circle cx="685.7" cy="130.8" r="4.8"/><circle cx="685.8" cy="128.7" r="4.8"/><circle cx="685.8" cy="126.7" r="4.8"/><circle cx="685.8" cy="124.6" r="4.8"/><circle cx="685.9" cy="122.5" r="4.8"/><circle cx="685.9" cy="120.5" r="4.8"/><circle cx="686.0" cy="118.4" r="4.8"/><circle cx="686.0" cy="116.3" r="4.8"/><circle cx="686.0" cy="114.3" r="4.8"/><circle cx="686.1" cy="112.2" r="4.8"/><circle cx="686.1" cy="110.1" r="4.8"/><circle cx="686.2" cy="108.1" r="4.8"/><circle cx="686.2" cy="106.0" r="4.8"/><circle cx="686.2" cy="103.9" r="4.8"/><circle cx="686.3" cy="101.9" r="4.8"/><circle cx="686.3" cy="99.8" r="4.8"/><circle cx="686.4" cy="97.7" r="4.8"/><circle cx="686.6" cy="95.7" r="4.8"/><circle cx="686.7" cy="93.6" r="4.8"/><circle cx="686.8" cy="91.5" r="4.8"/><circle cx="687.0" cy="89.5" r="4.8"/><circle cx="687.1" cy="87.4" r="4.8"/><circle cx="687.2" cy="85.3" r="4.8"/><circle cx="687.4" cy="83.3" r="4.8"/><circle cx="687.5" cy="81.2" r="4.8"/><circle cx="687.6" cy="79.1" r="4.8"/><circle cx="687.8" cy="77.1" r="4.8"/><circle cx="687.9" cy="75.0" r="4.8"/><circle cx="688.0" cy="72.9" r="4.8"/><circle cx="688.1" cy="70.9" r="4.8"/><circle cx="688.3" cy="68.8" r="4.8"/><circle cx="688.4" cy="66.7" r="4.8"/><circle cx="688.6" cy="64.7" r="4.8"/><circle cx="688.7" cy="62.6" r="4.8"/><circle cx="688.9" cy="60.5" r="4.8"/><circle cx="689.0" cy="58.5" r="4.8"/><circle cx="689.2" cy="56.4" r="4.8"/></g>
<g fill="#fff" stroke="#ff0000" stroke-width="2.1"><circle cx="528.8" cy="258.7" r="3.6"/><circle cx="529.0" cy="256.6" r="3.6"/><circle cx="529.1" cy="254.6" r="3.6"/><circle cx="529.3" cy="252.5" r="3.6"/><circle cx="529.5" cy="250.4" r="3.6"/><circle cx="529.6" cy="248.4" r="3.6"/><circle cx="529.6" cy="246.3" r="3.6"/><circle cx="529.7" cy="244.2" r="3.6"/><circle cx="529.8" cy="242.1" r="3.6"/><circle cx="529.8" cy="240.1" r="3.6"/><circle cx="529.9" cy="238.0" r="3.6"/><circle cx="530.0" cy="235.9" r="3.6"/><circle cx="530.1" cy="233.9" r="3.6"/><circle cx="530.1" cy="231.8" r="3.6"/><circle cx="530.2" cy="229.7" r="3.6"/><circle cx="530.2" cy="227.7" r="3.6"/><circle cx="530.2" cy="225.6" r="3.6"/><circle cx="530.2" cy="223.5" r="3.6"/><circle cx="530.2" cy="221.5" r="3.6"/><circle cx="530.2" cy="219.4" r="3.6"/><circle cx="530.3" cy="217.3" r="3.6"/><circle cx="530.3" cy="215.2" r="3.6"/><circle cx="530.3" cy="213.2" r="3.6"/><circle cx="530.3" cy="211.1" r="3.6"/><circle cx="530.3" cy="209.0" r="3.6"/><circle cx="530.3" cy="207.0" r="3.6"/><circle cx="530.3" cy="204.9" r="3.6"/><circle cx="530.3" cy="202.8" r="3.6"/><circle cx="530.3" cy="200.8" r="3.6"/><circle cx="530.3" cy="198.7" r="3.6"/><circle cx="530.3" cy="196.6" r="3.6"/><circle cx="530.4" cy="194.5" r="3.6"/><circle cx="530.4" cy="192.5" r="3.6"/><circle cx="530.4" cy="190.4" r="3.6"/><circle cx="530.4" cy="188.3" r="3.6"/><circle cx="530.4" cy="186.3" r="3.6"/><circle cx="530.4" cy="184.2" r="3.6"/><circle cx="530.4" cy="182.1" r="3.6"/><circle cx="530.4" cy="180.1" r="3.6"/><circle cx="530.4" cy="178.0" r="3.6"/><circle cx="530.4" cy="175.9" r="3.6"/><circle cx="530.4" cy="173.9" r="3.6"/><circle cx="530.4" cy="171.8" r="3.6"/><circle cx="530.5" cy="169.7" r="3.6"/><circle cx="530.5" cy="167.6" r="3.6"/><circle cx="530.5" cy="165.6" r="3.6"/><circle cx="530.5" cy="163.5" r="3.6"/><circle cx="530.5" cy="161.4" r="3.6"/><circle cx="530.5" cy="159.4" r="3.6"/><circle cx="530.5" cy="157.3" r="3.6"/><circle cx="530.5" cy="155.2" r="3.6"/><circle cx="530.6" cy="153.2" r="3.6"/><circle cx="530.6" cy="151.1" r="3.6"/><circle cx="530.6" cy="149.0" r="3.6"/><circle cx="530.6" cy="147.0" r="3.6"/><circle cx="530.6" cy="144.9" r="3.6"/><circle cx="530.6" cy="142.8" r="3.6"/><circle cx="530.6" cy="140.7" r="3.6"/><circle cx="530.7" cy="138.7" r="3.6"/><circle cx="530.7" cy="136.6" r="3.6"/><circle cx="530.7" cy="134.5" r="3.6"/><circle cx="530.7" cy="132.5" r="3.6"/><circle cx="530.7" cy="130.4" r="3.6"/><circle cx="530.7" cy="128.3" r="3.6"/><circle cx="530.8" cy="126.3" r="3.6"/><circle cx="530.8" cy="124.2" r="3.6"/><circle cx="530.8" cy="122.1" r="3.6"/><circle cx="530.8" cy="120.1" r="3.6"/><circle cx="530.9" cy="118.0" r="3.6"/><circle cx="530.9" cy="115.9" r="3.6"/><circle cx="531.0" cy="113.8" r="3.6"/><circle cx="531.0" cy="111.8" r="3.6"/><circle cx="531.1" cy="109.7" r="3.6"/><circle cx="531.1" cy="107.6" r="3.6"/><circle cx="531.2" cy="105.6" r="3.6"/><circle cx="531.3" cy="103.5" r="3.6"/><circle cx="531.3" cy="101.4" r="3.6"/><circle cx="531.4" cy="99.4" r="3.6"/><circle cx="531.4" cy="97.3" r="3.6"/><circle cx="531.5" cy="95.2" r="3.6"/><circle cx="531.5" cy="93.1" r="3.6"/><circle cx="531.6" cy="91.1" r="3.6"/><circle cx="531.7" cy="89.0" r="3.6"/><circle cx="531.7" cy="86.9" r="3.6"/><circle cx="531.8" cy="84.9" r="3.6"/><circle cx="531.8" cy="82.8" r="3.6"/><circle cx="531.9" cy="80.7" r="3.6"/><circle cx="531.9" cy="78.7" r="3.6"/><circle cx="532.0" cy="76.6" r="3.6"/><circle cx="532.0" cy="74.5" r="3.6"/><circle cx="532.1" cy="72.5" r="3.6"/><circle cx="532.1" cy="70.4" r="3.6"/><circle cx="532.2" cy="68.3" r="3.6"/><circle cx="532.2" cy="66.2" r="3.6"/><circle cx="532.3" cy="64.2" r="3.6"/><circle cx="532.3" cy="62.1" r="3.6"/><circle cx="532.4" cy="60.0" r="3.6"/><circle cx="532.5" cy="58.0" r="3.6"/><circle cx="532.5" cy="55.9" r="3.6"/></g>
<rect x="472" y="44" width="307" height="227" fill="none" stroke="#000" stroke-width="2"/>
<text x="559.2" y="91" font-family="Liberation Serif" font-weight="bold" font-size="19.6" letter-spacing="0.3" fill="#0000ff">LRS</text>
<text x="724.3" y="115.5" font-family="Liberation Serif" font-weight="bold" font-size="20" fill="#0000ff">HRS</text>
<text x="710.5" y="154.3" font-family="Liberation Serif" font-weight="bold" font-size="16">IGZO</text>
<rect x="712.3" y="164.6" width="8.2" height="8.2" fill="#000"/>
<text x="739" y="174" font-family="Liberation Serif" font-weight="bold" font-size="16">HRS</text>
<rect x="713.6" y="185.9" width="6" height="6" fill="#fff" stroke="#000" stroke-width="1.5"/>
<text x="739" y="194.1" font-family="Liberation Serif" font-weight="bold" font-size="16">LRS</text>
<text x="711" y="220.7" font-family="Liberation Serif" font-weight="bold" font-size="16" fill="#ff0000">IGZO:N</text>
<circle cx="716.4" cy="235.9" r="4.9" fill="#ff0000"/>
<text x="739" y="241.1" font-family="Liberation Serif" font-weight="bold" font-size="16" fill="#ff0000">HRS</text>
<circle cx="716.4" cy="255.2" r="3.5" fill="#fff" stroke="#ff0000" stroke-width="1.8"/>
<text x="739" y="260.9" font-family="Liberation Serif" font-weight="bold" font-size="16" fill="#ff0000">LRS</text>
</svg>
</body></html>
